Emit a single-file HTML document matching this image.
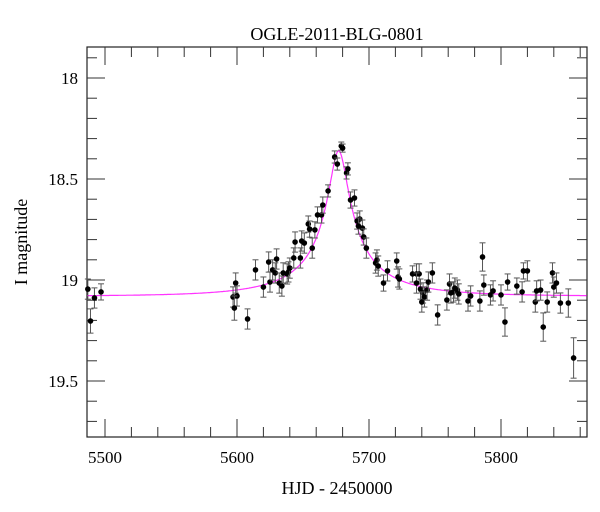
<!DOCTYPE html>
<html><head><meta charset="utf-8"><style>
html,body{margin:0;padding:0;background:#fff;}
svg{display:block;font-family:"Liberation Serif",serif;}
</style></head><body>
<svg id="chart" width="600" height="512" viewBox="0 0 600 512">
<text x="337" y="40" font-size="18" text-anchor="middle">OGLE-2011-BLG-0801</text>
<text x="337" y="494" font-size="18" text-anchor="middle">HJD - 2450000</text>
<text x="27" y="242" font-size="18" text-anchor="middle" transform="rotate(-90 27 242)">I magnitude</text>
<g id="axes"></g>
<g id="curve"></g>
<g id="pts"></g>
</svg>
<script>
var hjd=[5487,5489,5492,5497,5597,5599,5600,5598,5608,5614,5620,5624,5625,5627,5629,5630,5632,5634,5635,5638,5639,5640,5643,5644,5648,5649,5651,5654,5655,5657,5659,5661,5664,5665,5669,5674,5676,5679,5680,5683,5684,5686,5689,5691,5693,5692,5695,5696,5698,5705,5706,5707,5711,5714,5721,5722,5723,5733,5736,5738,5736,5739,5741,5740,5742,5744,5745,5748,5752,5759,5761,5762,5764,5765,5767,5768,5775,5777,5784,5786,5787,5792,5794,5800,5803,5805,5812,5816,5817,5820,5826,5827,5830,5832,5835,5839,5840,5842,5845,5851,5855];
var mag=[19.045,19.203,19.089,19.059,19.084,19.015,19.079,19.139,19.193,18.950,19.035,18.911,19.010,18.950,18.965,18.896,19.015,19.030,18.965,18.970,18.960,18.941,18.891,18.812,18.891,18.807,18.817,18.723,18.748,18.842,18.752,18.678,18.678,18.629,18.559,18.391,18.426,18.337,18.347,18.470,18.450,18.604,18.594,18.708,18.698,18.733,18.743,18.787,18.842,18.916,18.901,18.931,19.015,18.955,18.906,18.985,18.995,18.970,18.970,18.970,19.015,19.045,19.064,19.109,19.084,19.050,19.010,18.965,19.173,19.099,19.020,19.064,19.059,19.040,19.050,19.069,19.104,19.079,19.104,18.886,19.025,19.074,19.054,19.074,19.208,19.010,19.030,19.059,18.955,18.955,19.109,19.054,19.050,19.233,19.109,18.965,19.035,19.015,19.114,19.114,19.386];
var err=[0.05,0.06,0.05,0.04,0.05,0.05,0.05,0.06,0.05,0.05,0.05,0.05,0.05,0.05,0.05,0.05,0.05,0.05,0.05,0.05,0.05,0.05,0.05,0.05,0.05,0.05,0.05,0.04,0.04,0.05,0.04,0.04,0.04,0.04,0.03,0.03,0.03,0.02,0.02,0.03,0.03,0.04,0.04,0.04,0.04,0.04,0.04,0.04,0.05,0.05,0.05,0.05,0.04,0.05,0.04,0.05,0.05,0.04,0.05,0.05,0.05,0.05,0.05,0.05,0.05,0.05,0.05,0.05,0.05,0.05,0.05,0.05,0.05,0.05,0.05,0.05,0.05,0.05,0.05,0.07,0.05,0.05,0.05,0.05,0.07,0.04,0.04,0.05,0.04,0.05,0.05,0.05,0.05,0.07,0.05,0.05,0.05,0.05,0.05,0.07,0.1];
var xTicks=[5500,5600,5700,5800];
var yTicks=[18,18.5,19,19.5];
var model={t0:5677,u0:0.1,tE:70,fs:0.104,base:19.08};

var L=87,R=587,T=47,B=437;
function xs(v){return 105+(v-5500)*1.32;}
function ys(v){return 78+(v-18)*202;}
var NS="http://www.w3.org/2000/svg";
function mk(tag,attrs,parent){var e=document.createElementNS(NS,tag);for(var k in attrs)e.setAttribute(k,attrs[k]);parent.appendChild(e);return e;}
var ax=document.getElementById('axes');
var fr=mk('rect',{x:L,y:T,width:R-L,height:B-T,fill:'none',stroke:'#222','stroke-width':1.2},ax);


var xmin=5500+(L-105)/1.32,xmax=5500+(R-105)/1.32;
for(var t=5480;t<=xmax;t+=20){if(t<xmin)continue;var x=xs(t),maj=(t%100===0),len=maj?18:10;
 var a=mk('line',{x1:x,y1:B,x2:x,y2:B-len,stroke:'#333'},ax);
 
 
 var b=mk('line',{x1:x,y1:T,x2:x,y2:T+len,stroke:'#333'},ax);
 
 }
xTicks.forEach(function(t){var tx=mk('text',{x:xs(t),y:463,'font-size':17,'text-anchor':'middle'},ax);tx.textContent=t;
 
 });
for(var k=-1;k<=17;k++){var m=18+k*0.1;var y=ys(m);if(y<T||y>B)continue;var maj=(k%5===0),len=maj?18:10;
 var c=mk('line',{x1:L,y1:y,x2:L+len,y2:y,stroke:'#333'},ax);
 
 
 var d=mk('line',{x1:R,y1:y,x2:R-len,y2:y,stroke:'#333'},ax);
 
 }
yTicks.forEach(function(t){var tx=mk('text',{x:78,y:ys(t)+6,'font-size':17,'text-anchor':'end'},ax);tx.textContent=t;
 
 });
function A(u){return (u*u+2)/(u*Math.sqrt(u*u+4));}
var pts=[];for(var t=xmin;t<=xmax;t+=0.5){var tau=(t-model.t0)/model.tE;var u=Math.sqrt(model.u0*model.u0+tau*tau);
 var mm=model.base-2.5*Math.log10(1+model.fs*(A(u)-1));pts.push(xs(t).toFixed(1)+','+ys(mm).toFixed(1));}
var cv=mk('polyline',{points:pts.join(' '),fill:'none',stroke:'#ff33ff','stroke-width':1.2},document.getElementById('curve'));


var pg=document.getElementById('pts');
for(var i=0;i<hjd.length;i++){var x=xs(hjd[i]),y=ys(mag[i]),e=err[i]*202;
 var g=mk('g',{},pg);
 
 
 mk('line',{x1:x,y1:y-e,x2:x,y2:y+e,stroke:'#555','stroke-width':1},g);
 mk('line',{x1:x-3,y1:y-e,x2:x+3,y2:y-e,stroke:'#555','stroke-width':1},g);
 mk('line',{x1:x-3,y1:y+e,x2:x+3,y2:y+e,stroke:'#555','stroke-width':1},g);
 mk('circle',{cx:x,cy:y,r:2.8,fill:'#000'},g);}
</script>
</body></html>
